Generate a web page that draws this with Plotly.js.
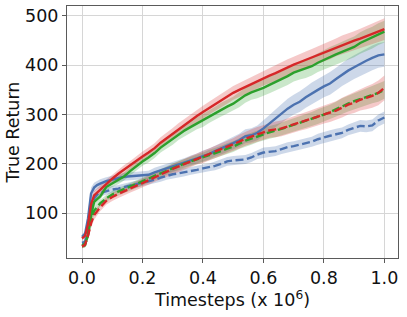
<!DOCTYPE html>
<html>
<head>
<meta charset="utf-8">
<script src="https://cdn.plot.ly/plotly-3.0.1.min.js"></script>
<style>
  html, body { margin: 0; padding: 0; background: #fff; }
  #chart { width: 407px; height: 317px; }
</style>
</head>
<body>
<div id="chart"></div>
<script>
// Timesteps (x 10^6)
var X = [0,0.01,0.02,0.03,0.04,0.05,0.06,0.08,0.10,0.12,0.14,0.16,0.18,0.20,0.22,0.24,0.26,0.28,0.30,0.32,0.34,0.36,0.38,0.40,0.42,0.44,0.46,0.48,0.50,0.52,0.54,0.56,0.58,0.60,0.62,0.64,0.66,0.68,0.70,0.72,0.74,0.76,0.78,0.80,0.82,0.84,0.86,0.88,0.90,0.92,0.94,0.96,0.98,1.0];

// Blue solid
var blueSolid = [52,58,90,140,152,157,160,165,168,171,174,175,176,177,178,183,187,190,194,198,202,207,211,216,220,226,231,236,242,248,256,258,263,272,282,292,302,312,320,326,335,343,350,357,363,372,381,389,396,403,409,415,420,422];
var blueSolidSd = [5,6,10,12,10,9,9,8,8,8,8,8,8,8,8,9,9,9,9,10,10,10,10,11,11,11,12,12,13,13,14,14,15,16,17,18,19,20,20,21,21,22,22,22,23,23,23,24,24,24,25,25,25,25];
// Blue dashed
var blueDashed = [40,42,70,112,130,138,141,145,148,150,153,155,158,162,165,168,172,176,179,181,183,186,188,191,193,196,200,205,207,208,209,213,219,223,224,226,230,234,236,239,242,245,250,254,257,260,263,269,273,277,276,278,288,294];
var blueDashedSd = [4,5,8,9,8,7,7,7,7,7,7,7,7,7,7,7,8,8,8,8,8,8,8,8,8,9,9,9,9,9,9,9,9,10,10,10,10,10,10,10,10,10,11,11,11,11,11,11,12,12,12,12,12,12];
// Green solid
var greenSolid = [35,38,55,95,123,128,134,153,160,167,175,186,196,205,213,222,233,242,250,260,268,275,282,288,296,303,310,316,322,330,339,345,349,354,360,366,371,378,385,389,393,398,405,411,417,422,427,432,437,445,451,456,463,468];
var greenSolidSd = [4,5,8,10,9,8,7,7,7,8,8,9,9,9,10,10,10,11,11,11,12,12,12,13,13,13,14,14,14,15,15,15,16,16,17,17,17,18,18,18,19,19,19,20,20,20,21,21,21,22,22,22,22,22];
// Green dashed
var greenDashed = [33,35,58,85,105,113,120,130,138,144,149,154,159,164,170,176,181,187,192,197,201,205,209,213,218,222,226,231,235,241,247,251,256,260,264,267,271,275,279,283,287,291,296,300,305,311,317,322,327,331,336,340,344,350];
var greenDashedSd = [4,5,7,9,8,7,7,7,7,7,7,7,8,8,8,8,8,9,9,9,9,9,10,10,10,10,11,11,11,11,12,12,12,12,13,13,13,13,14,14,14,14,15,15,15,15,16,16,16,17,17,17,18,18];
// Red solid
var redSolid = [49,54,78,118,136,142,148,160,170,180,189,197,206,215,223,232,243,252,262,271,280,289,297,305,313,321,328,336,344,350,356,362,368,374,379,384,390,396,401,406,411,416,421,426,430,436,441,445,450,454,459,463,468,473];
var redSolidSd = [4,5,8,10,9,8,8,8,8,9,9,9,10,10,10,10,11,11,11,12,12,12,12,13,13,13,13,14,14,14,14,15,15,15,15,16,16,16,16,17,17,17,17,18,18,18,19,19,19,20,20,21,21,22];
// Red dashed
var redDashed = [33,36,55,80,96,104,112,125,133,139,145,150,156,161,167,173,179,184,190,195,200,205,210,214,219,224,229,234,239,245,251,256,260,264,268,270,272,276,280,284,287,291,296,300,304,308,314,320,324,330,334,338,344,354];
var redDashedSd = [4,5,8,10,9,8,8,8,8,8,8,8,9,9,9,9,10,10,10,10,11,11,11,12,12,12,13,13,13,14,14,14,15,15,15,16,16,16,17,17,17,18,18,18,19,19,20,20,21,22,23,24,25,25];

var BLUE = '#4c72b0', GREEN = '#2ca02c', RED = '#d62728';
var DASH = '8px,3.5px';
var series = [
  {y: blueSolid, sd: blueSolidSd, color: BLUE, fill: 'rgba(76,114,176,0.28)', dash: 'solid'},
  {y: blueDashed, sd: blueDashedSd, color: BLUE, fill: 'rgba(76,114,176,0.28)', dash: DASH},
  {y: greenSolid, sd: greenSolidSd, color: GREEN, fill: 'rgba(44,160,44,0.25)', dash: 'solid'},
  {y: greenDashed, sd: greenDashedSd, color: GREEN, fill: 'rgba(44,160,44,0.25)', dash: DASH},
  {y: redSolid, sd: redSolidSd, color: RED, fill: 'rgba(214,39,40,0.25)', dash: 'solid'},
  {y: redDashed, sd: redDashedSd, color: RED, fill: 'rgba(214,39,40,0.25)', dash: DASH}
];

var traces = [];
series.forEach(function (s) {
  var up = s.y.map(function (v, i) { return v + s.sd[i]; });
  var lo = s.y.map(function (v, i) { return v - s.sd[i]; });
  traces.push({
    x: X.concat(X.slice().reverse()),
    y: up.concat(lo.slice().reverse()),
    type: 'scatter', mode: 'lines', fill: 'toself',
    fillcolor: s.fill, line: {width: 0}, hoverinfo: 'skip', showlegend: false
  });
});
series.forEach(function (s) {
  traces.push({
    x: X, y: s.y, type: 'scatter', mode: 'lines',
    line: {color: s.color, width: 2.4, dash: s.dash}, showlegend: false
  });
});

var FONT = {family: 'DejaVu Sans, sans-serif', size: 17.5, color: '#111'};
var layout = {
  width: 407, height: 317,
  margin: {l: 67, r: 9, t: 6, b: 59},
  paper_bgcolor: '#fff', plot_bgcolor: '#fff',
  font: FONT,
  showlegend: false,
  xaxis: {
    range: [-0.0496, 1.045], dtick: 0.2, tick0: 0, tickformat: '.1f',
    showgrid: true, gridcolor: '#d6d6d6', gridwidth: 1, zeroline: false,
    showline: true, linecolor: '#5a5a5a', linewidth: 1, mirror: true,
    ticks: 'outside', ticklen: 4, tickcolor: '#5a5a5a', tickfont: FONT,
    title: {text: 'Timesteps (x 10<sup>6</sup>)', font: FONT, standoff: 0},
    automargin: false
  },
  yaxis: {
    range: [9.3, 520], dtick: 100, tick0: 0,
    showgrid: true, gridcolor: '#d6d6d6', gridwidth: 1, zeroline: false,
    showline: true, linecolor: '#5a5a5a', linewidth: 1, mirror: true,
    ticks: 'outside', ticklen: 4, tickcolor: '#5a5a5a', tickfont: FONT,
    title: {text: 'True Return', font: FONT, standoff: 0},
    automargin: false
  }
};
Plotly.newPlot('chart', traces, layout, {staticPlot: true, displayModeBar: false});
</script>
</body>
</html>
